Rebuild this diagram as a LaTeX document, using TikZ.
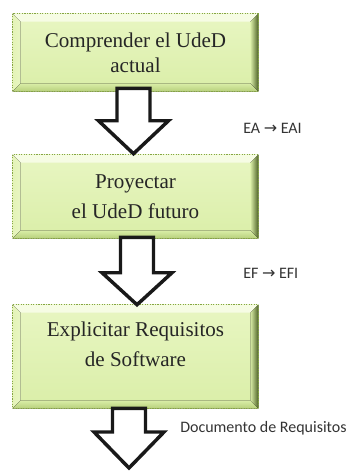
\documentclass[tikz,border=0pt]{standalone}
\usepackage{fontspec}
\setmainfont{Liberation Serif}
\newfontfamily\carlito{Carlito}
\newfontfamily\dejavu{DejaVu Sans}
\usepackage{xcolor}
\usetikzlibrary{calc, backgrounds}
\definecolor{boxmid}{HTML}{E8F6C2}
\definecolor{boxlow}{HTML}{DAEEA8}
\definecolor{bevtop}{HTML}{F6FCE4}
\definecolor{bevleft}{HTML}{E4F3B8}
\definecolor{bevbot}{HTML}{B7D07C}
\definecolor{bevright}{HTML}{4F6428}
\definecolor{boxline}{HTML}{86A544}
\tikzset{
  stepbox/.style = {rectangle, align=center, inner sep=0pt, text centered,
    text=black!85, minimum width=183.75pt,
    font=\fontsize{15.8}{18.8}\selectfont},% caja verde
  hollow/.style = {draw=black!90, fill=white, line width=2.6pt,
    line join=miter},% flecha hueca
  note/.style = {anchor=west, inner sep=0pt, text=black!80,
    font=\carlito\fontsize{12}{14}\selectfont}% texto al lado
}
\newcommand{\arr}{{\dejavu\fontsize{12}{14}\selectfont →}}

\begin{document}
\begin{tikzpicture}[x=0.75pt, y=-0.75pt]
\useasboundingbox (0,0) rectangle (346,471);

\node[stepbox, minimum height=57.75pt] (b1) at (135.5,52.5) {Comprender el UdeD\\actual};
\node[stepbox, minimum height=62.25pt, font=\fontsize{15.8}{22.5}\selectfont] (b2) at (135.5,196.5) {Proyectar\\el UdeD futuro};
\node[stepbox, minimum height=77.25pt, text depth=18pt, font=\fontsize{15.8}{22.5}\selectfont] (b3) at (135.5,356.5) {Explicitar Requisitos\\de Software};

% relleno y bisel de las cajas
\begin{scope}[on background layer]
\foreach \b in {b1,b2,b3}{
  \fill[top color=boxmid, bottom color=boxlow] (\b.north west) rectangle (\b.south east);
  \fill[bevtop] (\b.north west) -- (\b.north east) -- ($(\b.north east)+(-8,8)$) -- ($(\b.north west)+(8,8)$) -- cycle;
  \fill[left color=bevleft, right color=boxmid] (\b.north west) -- ($(\b.north west)+(8,8)$) -- ($(\b.south west)+(8,-8)$) -- (\b.south west) -- cycle;
  \fill[top color=boxlow, bottom color=bevbot] (\b.south west) -- ($(\b.south west)+(8,-8)$) -- ($(\b.south east)+(-8,-8)$) -- (\b.south east) -- cycle;
  \fill[left color=boxlow, right color=bevright] (\b.north east) -- (\b.south east) -- ($(\b.south east)+(-8,-8)$) -- ($(\b.north east)+(-8,8)$) -- cycle;
  \draw[boxline, densely dotted, line width=0.9pt] (\b.north west) rectangle (\b.south east);
}
\end{scope}

% flechas
\coordinate (p1) at ($(b2.north)+(-2,-1)$);
\coordinate (t1) at ($(p1 |- b1.south)+(0,-3)$);
\coordinate (p2) at ($(b3.north)+(1.5,0)$);
\coordinate (t2) at ($(p2 |- b2.south)+(0,-1)$);
\coordinate (p3) at (129,468);
\coordinate (t3) at ($(p3 |- b3.south)+(0,0)$);
\foreach \i/\h in {1/33,2/32,3/36}{
  \draw[hollow] ($(t\i)+(-16.5,0)$) -- ($(p\i)+(-16.5,-\h)$) -- ($(p\i)+(-35,-\h)$) -- (p\i)
    -- ($(p\i)+(35,-\h)$) -- ($(p\i)+(16.5,-\h)$) -- ($(t\i)+(16.5,0)$) -- cycle;
}

\node[note] (l1) at (243,128) {EA \arr\ EAI};
\node[note] (l2) at (243,273) {EF \arr\ EFI};
\node[note] (l3) at (180,428) {Documento de Requisitos};
\end{tikzpicture}
\end{document}
